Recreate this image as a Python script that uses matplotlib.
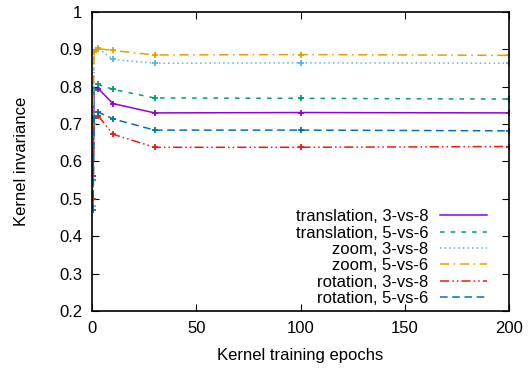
import numpy as np
import matplotlib.pyplot as plt

plt.rcParams['font.family'] = ['Liberation Sans', 'DejaVu Sans']

epochs = [0.5, 1, 3, 10, 30, 100, 200]

trans_3v8 = [0.56, 0.790, 0.795, 0.755, 0.730, 0.731, 0.730]
trans_5v6 = [0.55, 0.790, 0.806, 0.793, 0.770, 0.769, 0.767]
zoom_3v8 = [0.48, 0.893, 0.903, 0.873, 0.863, 0.864, 0.863]
zoom_5v6 = [0.70, 0.892, 0.902, 0.897, 0.885, 0.886, 0.884]
rot_3v8 = [0.50, 0.716, 0.722, 0.673, 0.638, 0.638, 0.640]
rot_5v6 = [0.47, 0.716, 0.732, 0.714, 0.684, 0.684, 0.682]

series = [
    ('translation, 3-vs-8', trans_3v8, '#9400d3', '-'),
    ('translation, 5-vs-6', trans_5v6, '#009e73', (0, (3, 4))),
    ('zoom, 3-vs-8', zoom_3v8, '#56b4e9', (0, (1, 2))),
    ('zoom, 5-vs-6', zoom_5v6, '#e69f00', (0, (6, 3, 1, 3))),
    ('rotation, 3-vs-8', rot_3v8, '#e51e10', (0, (6, 2, 1, 2, 1, 2))),
    ('rotation, 5-vs-6', rot_5v6, '#0072b2', (0, (5, 3))),
]

fig = plt.figure(figsize=(5.31, 3.70), dpi=100)
ax = fig.add_axes([0.1733, 0.1595, 0.7853, 0.8081])

for label, vals, color, ls in series:
    ax.plot(epochs, vals, color=color, linestyle=ls, linewidth=1.1,
            marker='+', markersize=5, markeredgewidth=1.3, label=label)

ax.set_xlim(0, 200)
ax.set_ylim(0.2, 1.0)
ax.set_xticks([0, 50, 100, 150, 200])
ax.set_yticks(np.arange(0.2, 1.01, 0.1))
ax.set_yticklabels(['0.2', '0.3', '0.4', '0.5', '0.6', '0.7', '0.8', '0.9', '1'])
ax.tick_params(direction='in', top=True, right=True, labelsize=12, length=5, pad=7)
for s in ax.spines.values():
    s.set_linewidth(1.2)

ax.set_xlabel('Kernel training epochs', fontsize=12)
ax.set_ylabel('Kernel invariance', fontsize=12)
ax.xaxis.set_label_coords(0.5, -0.125)
ax.yaxis.set_label_coords(-0.15, 0.5)

leg = ax.legend(loc='lower right', bbox_to_anchor=(0.947, 0.017), frameon=False,
                markerfirst=False, fontsize=12, handlelength=2.8, labelspacing=0.08,
                borderaxespad=0, borderpad=0, handletextpad=0.7)
for h in leg.legend_handles:
    h.set_marker('')
for t in leg.get_texts():
    t.set_ha('right')
leg._legend_box.align = 'right'

fig.savefig('out.png', dpi=100)
